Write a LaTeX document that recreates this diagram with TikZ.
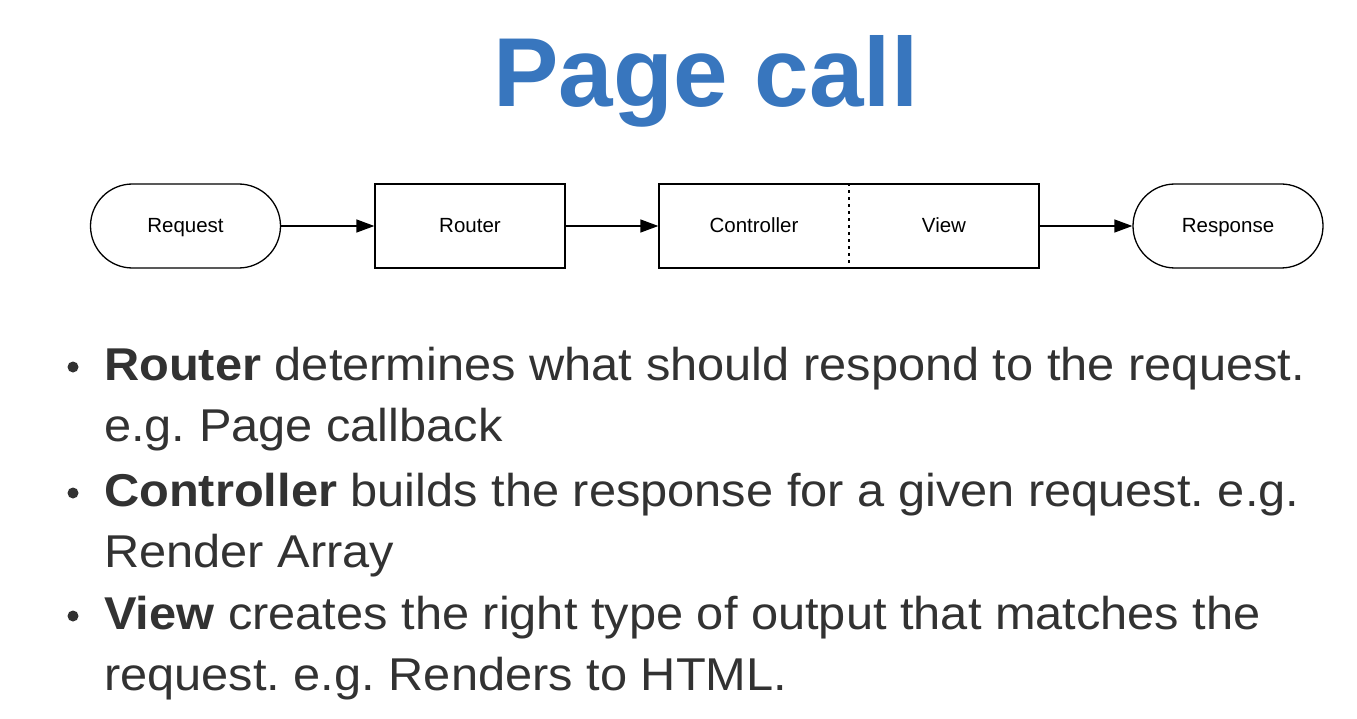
\documentclass[tikz,border=0pt]{standalone}
\usepackage{fontspec}
\setmainfont{Liberation Sans}
\newfontfamily\listfont[FakeStretch=1.06]{Liberation Sans}
\usetikzlibrary{arrows.meta}
\definecolor{titleblue}{RGB}{56,118,190}
\definecolor{bodygray}{RGB}{50,50,50}
\frenchspacing
\begin{document}
\begin{tikzpicture}[x=1pt,y=-1pt,
  lbl/.style={font=\fontsize{20.5}{24}\selectfont,anchor=base},
  box/.style={draw=black,line width=1.3pt,minimum width=190pt,minimum height=84pt,inner sep=0pt},
  term/.style={box,rounded corners=42pt},
  flow/.style={line width=1.3pt,-{Triangle[length=18pt,width=13pt]}},
  listline/.style={anchor=base west,inner sep=0pt,text=bodygray,font=\listfont\fontsize{46}{56}\selectfont},
  dot/.style={circle,fill=bodygray,minimum size=11pt,inner sep=0pt}]
\useasboundingbox (0,0) rectangle (1357,719);
\fill[white] (0,0) rectangle (1357,719);

% heading
\node[anchor=base,text=titleblue,font=\fontsize{98}{100}\selectfont\bfseries] (title) at (706,107) {Page call};

% request flow
\node[term] (req) at (185.5,226) {};
\node[box] (router) at (470,226) {};
\node[box,minimum width=380pt] (cv) at (849,226) {};
\node[term] (resp) at (1228,226) {};
\draw[line width=1.3pt,dash pattern=on 3pt off 4pt] (cv.north) -- (cv.south);

\node[lbl] (reqlbl) at (185.5,233) {Request};
\node[lbl] (routerlbl) at (470,233) {Router};
\node[lbl] (ctrl) at (754,233) {Controller};
\node[lbl] (view) at (944,233) {View};
\node[lbl] (resplbl) at (1228,233) {Response};

\draw[flow] (req) -- (router);
\draw[flow] (router) -- (cv);
\draw[flow] (cv) -- (resp);

% bullet list
\node[dot] (b1) at (73,367) {};
\node[listline] (t1a) at (104,380) {\textbf{Router} determines what should respond to the request.};
\node[listline] (t1b) at (104,441) {e.g. Page callback};
\node[dot] (b2) at (73,493) {};
\node[listline] (t2a) at (104,506) {\textbf{Controller} builds the response for a given request. e.g.};
\node[listline] (t2b) at (104,567) {Render Array};
\node[dot] (b3) at (73,616) {};
\node[listline] (t3a) at (104,629) {\textbf{View} creates the right type of output that matches the};
\node[listline] (t3b) at (104,690) {request. e.g. Renders to HTML.};
\end{tikzpicture}
\end{document}
